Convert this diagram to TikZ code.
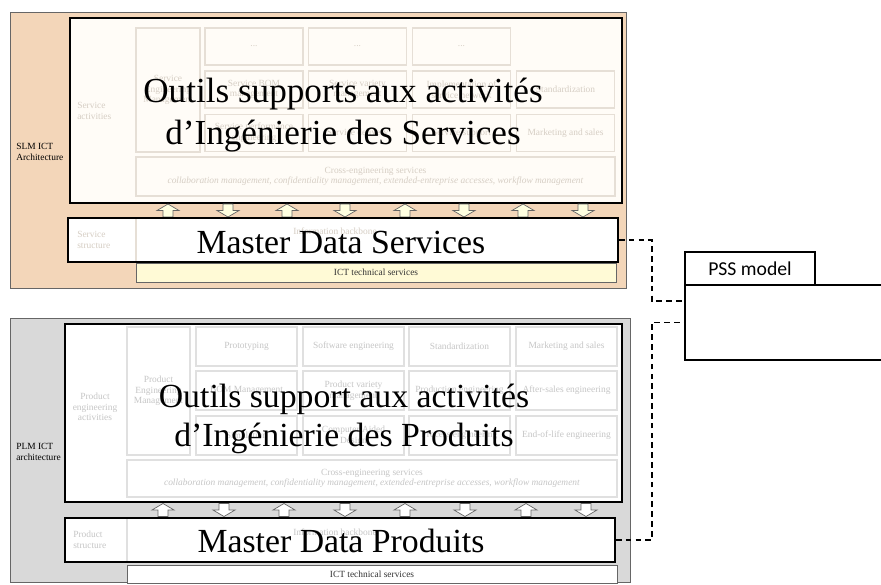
\documentclass[tikz,border=0pt]{standalone}
\usepackage{fontspec}
\setmainfont{Liberation Serif}
\newfontfamily\pssfont{Carlito}
\usetikzlibrary{positioning}

\definecolor{slmfill}{HTML}{F3D6B9}
\definecolor{slmwhite}{HTML}{FFFCF7}
\definecolor{ictyellow}{HTML}{FFFAD6}
\definecolor{arrowyellow}{HTML}{FFFFE0}
\definecolor{plmfill}{HTML}{D9D9D9}
\definecolor{stext}{HTML}{D6CEC4}
\definecolor{sline}{HTML}{E6DFD6}
\definecolor{ptext}{HTML}{C6C6C6}
\definecolor{pline}{HTML}{E0E0E0}

\begin{document}
\begin{tikzpicture}[
    x=0.025cm, y=-0.025cm,
    wh/.style 2 args={minimum width=#1*0.025cm, minimum height=#2*0.025cm},
    smallfont/.style={font=\fontsize{6.7}{7.6}\selectfont},
    frame/.style={draw=gray!80!black, line width=0.6pt, inner sep=0pt},
    toolbox/.style={draw=black, line width=1.3pt, inner sep=0pt},
    mdbox/.style={draw=black, line width=1.3pt, fill=white, inner sep=0pt},
    scell/.style={draw=sline, line width=0.8pt, smallfont, text=stext, align=center, inner sep=1pt},
    pcell/.style={draw=pline, line width=0.8pt, smallfont, text=ptext, align=center, inner sep=1pt},
    sfaded/.style={smallfont, text=stext, align=left, inner sep=0pt},
    pfaded/.style={smallfont, text=ptext, align=center, inner sep=0pt},
    lbl/.style={smallfont, align=left, inner sep=0pt},
    ictbar/.style={draw=gray!80!black, line width=0.6pt, smallfont, text=black!80, inner sep=0pt},
    blockarr/.style={draw=gray!80!black, line width=0.5pt},
    bigtxt/.style={font=\fontsize{25}{30}\selectfont, align=center, inner sep=0pt},
    mdtxt/.style={font=\fontsize{24}{28}\selectfont, inner sep=0pt},
    pssbox/.style={draw=black, line width=1.1pt, inner sep=0pt},
    link/.style={draw=black, line width=1pt, dash pattern=on 4pt off 3pt}
]
\useasboundingbox (0,0) rectangle (881,585);

\node[frame, fill=slmfill, wh={616}{276}] (slm) at (318,150) {};
\node[lbl, anchor=west] (slmlbl) at (16,152) {SLM ICT\\Architecture};
\node[toolbox, fill=slmwhite, wh={552}{185}] (stools) at (346,110.5) {};
\node[sfaded, anchor=west] (sact) at (77,111) {Service\\activities};

\node[scell, wh={64}{124}] (sc1) at (168,90) {Service\\Engineering\\Management};
\node[scell, wh={98}{37}] (sc12) at (254,46.5) {...};
\node[scell, wh={98}{37}] (sc13) at (357.5,46.5) {...};
\node[scell, wh={98}{37}] (sc14) at (461.5,46.5) {...};
\node[scell, wh={98}{37}] (sc22) at (254,89.5) {Service BOM\\management};
\node[scell, wh={98}{37}] (sc23) at (357.5,89.5) {Service variety\\management};
\node[scell, wh={98}{37}] (sc24) at (461.5,89.5) {Implementation of\\service network};
\node[scell, wh={98}{37}] (sc25) at (565.5,89.5) {Standardization};
\node[scell, wh={98}{37}] (sc32) at (254,133) {Service performance\\engineering};
\node[scell, wh={98}{37}] (sc33) at (357.5,133) {Service delivery};
\node[scell, wh={98}{37}] (sc34) at (461.5,133) {Service support};
\node[scell, wh={98}{37}] (sc35) at (565.5,133) {Marketing and sales};
\node[scell, wh={479}{39}] (scross) at (375.5,176.5) {Cross-engineering services\\\textit{collaboration management, confidentiality management, extended-entreprise accesses, workflow management}};

\foreach \x/\d in {168/1, 228/-1, 287/1, 345/-1, 405/1, 464/-1, 523/1, 583/-1}
  \draw[blockarr, fill=arrowyellow, shift={(\x,210.5)}, yscale=\d] (0,-6.5) -- (11,0) -- (5,0) -- (5,6.5) -- (-5,6.5) -- (-5,0) -- (-11,0) -- cycle;

\node[mdbox, wh={550}{44}] (mds) at (343,240) {};
\draw[sline, line width=0.8pt] (136,219) -- (136,261);
\node[sfaded, anchor=west] (sstr) at (77,240) {Service\\structure};
\node[sfaded, align=center] (sinfo) at (335,231) {Information backbone};
\node[ictbar, fill=ictyellow, wh={480}{19}] (sict) at (376,272.5) {ICT technical services};

\node[bigtxt] (stxt) at (343,115) {Outils supports aux activités\\d’Ingénierie des Services};
\node[mdtxt] (mdstxt) at (341,242) {Master Data Services};

\node[frame, fill=plmfill, wh={620}{264}] (plm) at (320,450) {};
\node[lbl, anchor=west] (plmlbl) at (16,452) {PLM ICT\\architecture};
\node[toolbox, fill=white, wh={557}{178}] (ptools) at (343.5,413) {};
\node[pfaded] (pact) at (95,407) {Product\\engineering\\activities};

\node[pcell, wh={63}{128}] (pc1) at (158.5,391) {Product\\Engineering\\Management};
\node[pcell, wh={101}{39}] (pc12) at (246.5,346.5) {Prototyping};
\node[pcell, wh={101}{39}] (pc13) at (353.5,346.5) {Software engineering};
\node[pcell, wh={101}{39}] (pc14) at (459.5,346.5) {Standardization};
\node[pcell, wh={101}{39}] (pc15) at (566.5,346.5) {Marketing and sales};
\node[pcell, wh={101}{39}] (pc22) at (246.5,390.5) {BOM Management};
\node[pcell, wh={101}{39}] (pc23) at (353.5,390.5) {Product variety\\management};
\node[pcell, wh={101}{39}] (pc24) at (459.5,390.5) {Production engineering};
\node[pcell, wh={101}{39}] (pc25) at (566.5,390.5) {After-sales engineering};
\node[pcell, wh={101}{39}] (pc32) at (246.5,435.5) {Simulation};
\node[pcell, wh={101}{39}] (pc33) at (353.5,435.5) {Computer Aided\\Design};
\node[pcell, wh={101}{39}] (pc34) at (459.5,435.5) {Process engineering};
\node[pcell, wh={101}{39}] (pc35) at (566.5,435.5) {End-of-life engineering};
\node[pcell, wh={490}{37}] (pcross) at (372,478.5) {Cross-engineering services\\\textit{collaboration management, confidentiality management, extended-entreprise accesses, workflow management}};

\foreach \x/\d in {163/1, 224/-1, 284/1, 345/-1, 405/1, 465/-1, 526/1, 586/-1}
  \draw[blockarr, fill=white, shift={(\x,510)}, yscale=\d] (0,-6.5) -- (11,0) -- (5,0) -- (5,6.5) -- (-5,6.5) -- (-5,0) -- (-11,0) -- cycle;

\node[mdbox, wh={550}{44}] (mdp) at (340,540) {};
\draw[pline, line width=0.8pt] (127,519) -- (127,561);
\node[pfaded, anchor=west, align=left] (pstr) at (73,540) {Product\\structure};
\node[pfaded] (pinfo) at (335,532) {Information backbone};
\node[ictbar, fill=white, wh={490}{18}] (pict) at (372,574) {ICT technical services};

\node[bigtxt, font=\fontsize{24}{27.5}\selectfont] (ptxt) at (344,419) {Outils support aux activités\\d’Ingénierie des Produits};
\node[mdtxt] (mdptxt) at (341,541) {Master Data Produits};

\node[pssbox, fill=white, wh={130}{33}, font=\pssfont\fontsize{14}{16}\selectfont] (psstab) at (750,268.5) {PSS model};
\node[pssbox, fill=white, wh={215}{75}] (pss) at (792.5,322.5) {};

\draw[link] (mds.east) -- ++(33,0) |- ([yshift=0.54cm]pss.west);
\draw[link] (mdp.east) -- ++(36,0) |- (pss.west);

\end{tikzpicture}
\end{document}
